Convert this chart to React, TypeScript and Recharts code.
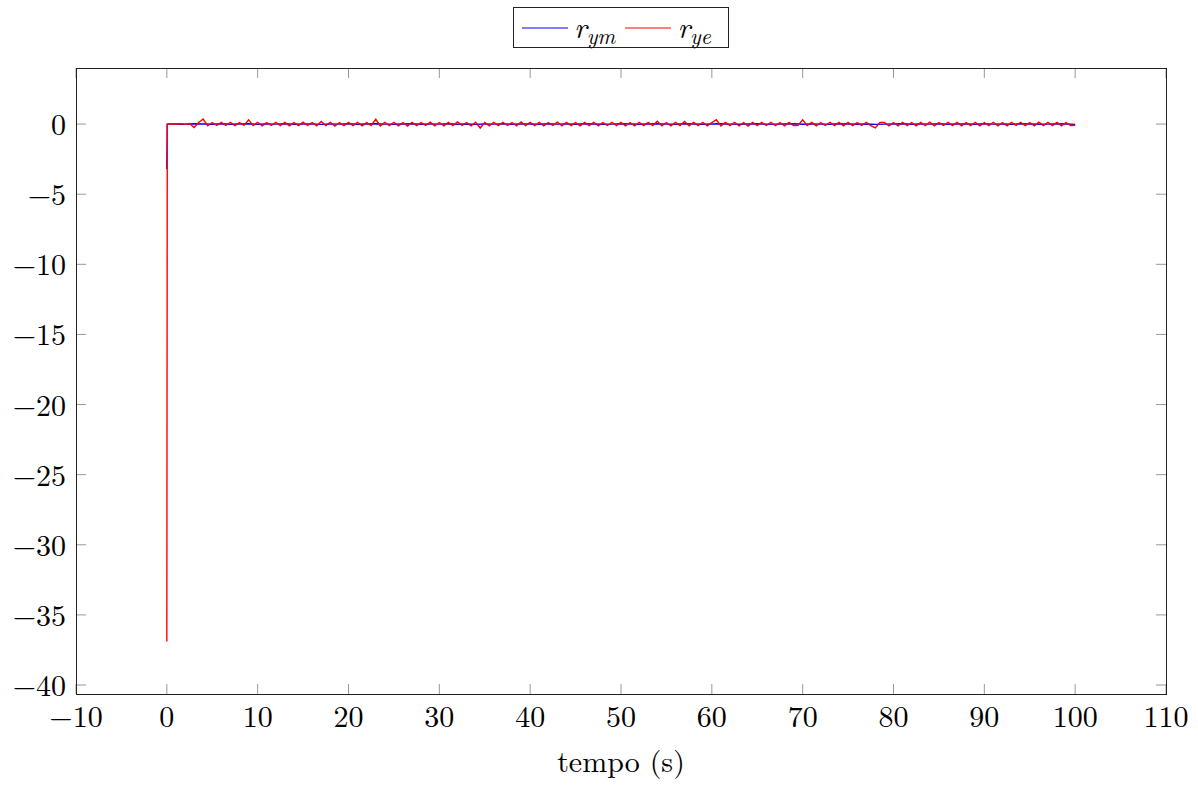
import { Line, LineChart, XAxis, YAxis } from 'recharts'

const W = 1198
const H = 787
const PLOT = { left: 76, top: 68, right: 1166, bottom: 694 }
const FONT = '"Latin Modern Roman", "Liberation Serif", serif'
const FONT_SIZE = 30
const BLUE = '#0000ff'
const RED = '#ff0000'

const xTicks = [-10, 0, 10, 20, 30, 40, 50, 60, 70, 80, 90, 100, 110]
const yTicks = [-40, -35, -30, -25, -20, -15, -10, -5, 0]
const xDomain: [number, number] = [-10, 110]
const yDomain: [number, number] = [-40.64, 4]

// initial transient, [t, value]
const rymStart = [
  [0, -3.2],
  [0.05, 0.0],
]
const ryeStart = [
  [0, -36.9],
  [0.05, 0.0],
]

// r_ym sampled every 1 s from t = 1
const rymStep = 1
const rymValues = [
  0.01, -0.01, 0.02, 0.01, -0.01, 0.02, -0.01, 0.01, 0.02, -0.01,
  0.01, 0.0, 0.02, -0.01, 0.01, 0.01, -0.02, 0.01, 0.0, 0.02,
  -0.01, 0.01, 0.02, 0.0, -0.01, 0.01, 0.02, -0.01, 0.01, 0.0,
  0.02, -0.01, 0.01, -0.02, 0.01, 0.0, 0.02, -0.01, 0.01, 0.01,
  -0.01, 0.02, 0.0, 0.01, -0.01, 0.02, 0.01, -0.01, 0.0, 0.02,
  0.01, -0.01, 0.01, 0.02, 0.0, -0.01, 0.02, 0.01, -0.01, 0.01,
  0.02, 0.0, -0.01, 0.01, 0.02, -0.01, 0.0, 0.01, 0.02, -0.01,
  0.01, 0.0, -0.01, 0.02, 0.01, -0.01, 0.01, -0.02, 0.0, 0.01,
  0.02, -0.01, 0.01, 0.0, 0.02, -0.01, 0.01, 0.01, -0.01, 0.02,
  0.0, 0.01, -0.01, 0.02, 0.01, -0.01, 0.0, 0.02, 0.01, -0.02,
]

// r_ye sampled every 0.5 s from t = 0.5
const ryeStep = 0.5
const ryeValues = [
  0.02, -0.01, 0.03, -0.02, 0.04, -0.24, 0.12, 0.36, -0.12, 0.11, -0.1, 0.12, -0.1, 0.13, -0.11, 0.11, -0.09, 0.3, -0.11, 0.13,
  -0.12, 0.11, -0.1, 0.13, -0.11, 0.12, -0.13, 0.11, -0.11, 0.14, -0.1, 0.11, -0.12, 0.18, -0.11, 0.13, -0.14, 0.11, -0.11, 0.12,
  -0.11, 0.13, -0.12, 0.11, -0.1, 0.34, -0.13, 0.12, -0.11, 0.13, -0.12, 0.11, -0.14, 0.13, -0.11, 0.11, -0.1, 0.14, -0.12, 0.11,
  -0.13, 0.12, -0.11, 0.15, -0.1, 0.11, -0.12, 0.13, -0.28, 0.11, -0.13, 0.12, -0.11, 0.13, -0.1, 0.11, -0.12, 0.16, -0.11, 0.13,
  -0.11, 0.12, -0.13, 0.11, -0.1, 0.14, -0.12, 0.13, -0.11, 0.11, -0.13, 0.12, -0.11, 0.13, -0.12, 0.11, -0.1, 0.13, -0.11, 0.12,
  -0.12, 0.11, -0.13, 0.13, -0.11, 0.12, -0.1, 0.2, -0.13, 0.11, -0.12, 0.13, -0.11, 0.18, -0.13, 0.12, -0.11, 0.13, -0.12, 0.11,
  0.32, -0.13, 0.12, -0.11, 0.13, -0.12, 0.11, -0.14, 0.13, -0.11, 0.12, -0.1, 0.13, -0.11, 0.11, -0.13, 0.12, -0.11, -0.08, 0.3,
  -0.11, 0.12, -0.13, 0.11, -0.1, 0.13, -0.11, 0.12, -0.12, 0.13, -0.11, 0.11, -0.1, 0.13, -0.11, -0.27, 0.11, 0.12, -0.13, 0.11,
  -0.12, 0.13, -0.11, 0.11, -0.13, 0.12, -0.11, 0.14, -0.12, 0.11, -0.1, 0.13, -0.11, 0.12, -0.13, 0.11, -0.11, 0.13, -0.12, 0.11,
  -0.11, 0.13, -0.12, 0.11, -0.13, 0.12, -0.1, 0.13, -0.11, 0.11, -0.12, 0.14, -0.11, 0.13, -0.11, 0.12, -0.13, 0.11, -0.1, -0.08,
]

const toSeries = (start: number[][], values: number[], step: number) => [
  ...start.map(([t, v]) => ({ t, v })),
  ...values.map((v, i) => ({ t: (i + 1) * step, v })),
]

const rymData = toSeries(rymStart, rymValues, rymStep)
const ryeData = toSeries(ryeStart, ryeValues, ryeStep)

const fmt = (v: number) => (v < 0 ? `\u2212${Math.abs(v)}` : `${v}`)

function XTick(props: any) {
  const cx = props.payload?.coordinate ?? props.x
  return (
    <g>
      <line x1={cx} x2={cx} y1={PLOT.bottom} y2={PLOT.bottom - 10} stroke="#999" />
      <line x1={cx} x2={cx} y1={PLOT.top} y2={PLOT.top + 10} stroke="#999" />
      <text x={cx} y={727} textAnchor="middle" fontFamily={FONT} fontSize={FONT_SIZE} fill="#000">
        {fmt(props.payload.value)}
      </text>
    </g>
  )
}

function YTick(props: any) {
  const cy = props.payload?.coordinate ?? props.y
  return (
    <g>
      <line x1={PLOT.left} x2={PLOT.left + 10} y1={cy} y2={cy} stroke="#999" />
      <line x1={PLOT.right} x2={PLOT.right - 10} y1={cy} y2={cy} stroke="#999" />
      <text x={66} y={cy} dy={11} textAnchor="end" fontFamily={FONT} fontSize={FONT_SIZE} fill="#000">
        {fmt(props.payload.value)}
      </text>
    </g>
  )
}

function XLabel() {
  return (
    <text
      x={(PLOT.left + PLOT.right) / 2}
      y={772}
      textAnchor="middle"
      fontFamily={FONT}
      fontSize={FONT_SIZE}
      fill="#000"
    >
      tempo (s)
    </text>
  )
}

function LegendItem({ color, sub }: { color: string; sub: string }) {
  return (
    <span style={{ display: 'inline-flex', alignItems: 'center' }}>
      <svg width={46} height={4} style={{ marginRight: 6 }}>
        <line x1={0} x2={46} y1={2} y2={2} stroke={color} strokeWidth={1.2} />
      </svg>
      <span style={{ fontStyle: 'italic', fontSize: FONT_SIZE, lineHeight: '30px' }}>
        r
        <span style={{ fontSize: 22, position: 'relative', top: 6 }}>{sub}</span>
      </span>
    </span>
  )
}

export default function App() {
  return (
    <div
      style={{
        position: 'fixed',
        left: 0,
        top: 0,
        width: W,
        height: H,
        background: '#fff',
        fontFamily: FONT,
      }}
    >
      <LineChart
        width={W}
        height={H}
        margin={{ top: PLOT.top, right: W - PLOT.right, left: 0, bottom: 0 }}
      >
        <XAxis
          type="number"
          dataKey="t"
          domain={xDomain}
          ticks={xTicks}
          allowDataOverflow
          height={H - PLOT.bottom}
          axisLine={false}
          tickLine={false}
          tick={XTick}
          interval={0}
          label={<XLabel />}
        />
        <YAxis
          type="number"
          domain={yDomain}
          ticks={yTicks}
          allowDataOverflow
          width={PLOT.left}
          axisLine={false}
          tickLine={false}
          tick={YTick}
          interval={0}
        />
        <Line
          data={rymData}
          dataKey="v"
          type="linear"
          stroke={BLUE}
          strokeWidth={1.4}
          dot={false}
          isAnimationActive={false}
        />
        <Line
          data={ryeData}
          dataKey="v"
          type="linear"
          stroke={RED}
          strokeWidth={1.4}
          dot={false}
          isAnimationActive={false}
        />
      </LineChart>
      <div
        style={{
          position: 'absolute',
          left: PLOT.left,
          top: PLOT.top,
          width: PLOT.right - PLOT.left - 1,
          height: PLOT.bottom - PLOT.top - 1,
          border: '1px solid #222',
          pointerEvents: 'none',
        }}
      />
      <div
        style={{
          position: 'absolute',
          left: 513,
          top: 7,
          width: 206,
          height: 39,
          border: '1px solid #222',
          display: 'flex',
          alignItems: 'center',
          gap: 10,
          paddingLeft: 8,
          boxSizing: 'content-box',
        }}
      >
        <LegendItem color={BLUE} sub="ym" />
        <LegendItem color={RED} sub="ye" />
      </div>
    </div>
  )
}
